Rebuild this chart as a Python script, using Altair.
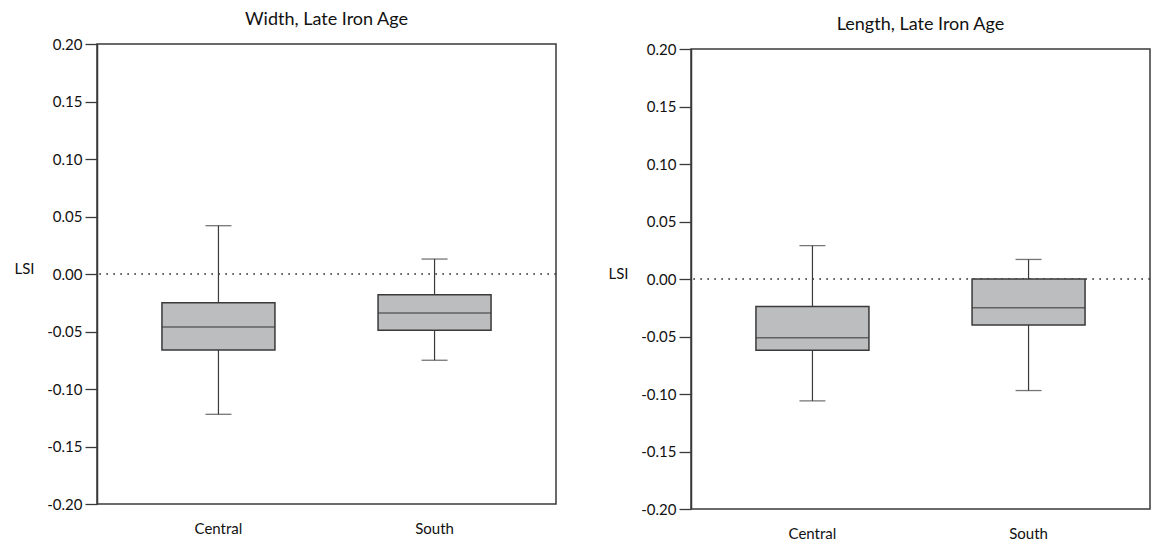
import altair as alt
import pandas as pd

regions = ["Central", "South"]

width_lower = [-0.122, -0.075]
width_q1 = [-0.066, -0.049]
width_median = [-0.046, -0.034]
width_q3 = [-0.025, -0.018]
width_upper = [0.042, 0.013]

length_lower = [-0.106, -0.097]
length_q1 = [-0.062, -0.040]
length_median = [-0.051, -0.025]
length_q3 = [-0.024, 0.000]
length_upper = [0.029, 0.017]

y_ticks = [-0.20, -0.15, -0.10, -0.05, 0.00, 0.05, 0.10, 0.15, 0.20]
y_domain = [-0.20, 0.20]

FONT = "Lato"
DARK = "#3a3a3a"
TEXT = "#111111"
FILL = "#bcbdbf"
PW = 459
PH = 460


def make_df(lo, q1, med, q3, up):
    return pd.DataFrame({"region": regions, "lower": lo, "q1": q1,
                         "median": med, "q3": q3, "upper": up})


def panel(df, title, shift=0):
    xenc = alt.X("region:N", sort=regions,
                 scale=alt.Scale(paddingInner=0, paddingOuter=0.062),
                 axis=alt.Axis(title=None, ticks=False, domain=False, labelAngle=0,
                               labelPadding=17, labelFontSize=15, labelFont=FONT,
                               labelColor=TEXT, labelFontWeight="normal"))
    yscale = alt.Scale(domain=y_domain, nice=False, zero=False,
                       range=[PH + shift, shift])
    yaxis = alt.Axis(values=y_ticks, title="LSI", titleAngle=0, titleX=-73,
                     titleY=224 + shift,
                     titleAlign="center", titleBaseline="middle", titleFont=FONT,
                     titleFontSize=15, titleFontWeight="normal", titleColor=TEXT,
                     labelExpr="replace(format(datum.value, '.2f'), '\u2212', '-')",
                     labelFont=FONT, labelFontSize=15, labelColor=TEXT, labelPadding=3,
                     tickSize=12, tickColor=DARK, tickWidth=1.3,
                     domainColor=DARK, domainWidth=1.5, grid=False)
    base = alt.Chart(df)
    frame = alt.Chart(pd.DataFrame({"top": [y_domain[1]], "bottom": [y_domain[0]]})).mark_rect(
        fillOpacity=0, stroke=DARK, strokeWidth=1.5).encode(
        x=alt.value(0), x2=alt.value(PW),
        y=alt.Y("top:Q", scale=yscale, axis=yaxis), y2="bottom:Q")
    zero = alt.Chart(pd.DataFrame({"z": [0.0]})).mark_rule(
        color="#333", strokeWidth=1.7, strokeDash=[1.7, 5.3]).encode(
        y=alt.Y("z:Q", scale=yscale, axis=yaxis))
    whisk = base.mark_rule(color=DARK, strokeWidth=1.2).encode(
        x=xenc, y=alt.Y("lower:Q", scale=yscale, axis=yaxis), y2="upper:Q")
    box = base.mark_bar(size=113, fill=FILL, stroke=DARK, strokeWidth=1.5).encode(
        x=xenc, y=alt.Y("q1:Q", scale=yscale, axis=yaxis), y2="q3:Q")
    med = base.mark_tick(size=113, thickness=1.5, color=DARK, orient="horizontal").encode(
        x=xenc, y=alt.Y("median:Q", scale=yscale, axis=yaxis))
    cap_lo = base.mark_tick(size=26, thickness=1.3, color=DARK, orient="horizontal").encode(
        x=xenc, y=alt.Y("lower:Q", scale=yscale, axis=yaxis))
    cap_hi = base.mark_tick(size=26, thickness=1.3, color=DARK, orient="horizontal").encode(
        x=xenc, y=alt.Y("upper:Q", scale=yscale, axis=yaxis))
    return alt.layer(frame, zero, whisk, box, med, cap_lo, cap_hi).properties(
        width=PW, height=PH + shift,
        title=alt.TitleParams(title, fontSize=18, font=FONT, fontWeight="normal",
                              color=TEXT, offset=8, frame="group", anchor="middle"))


left = panel(make_df(width_lower, width_q1, width_median, width_q3, width_upper),
             "Width, Late Iron Age")
right = panel(make_df(length_lower, length_q1, length_median, length_q3, length_upper),
              "Length, Late Iron Age", shift=5)

chart = alt.hconcat(left, right, spacing=50).properties(
    padding={"left": 5, "top": 3, "right": 0, "bottom": 0},
    background="white",
).configure_view(strokeWidth=0)

chart.save("out.html", embed_options={"renderer": "svg", "actions": False})
